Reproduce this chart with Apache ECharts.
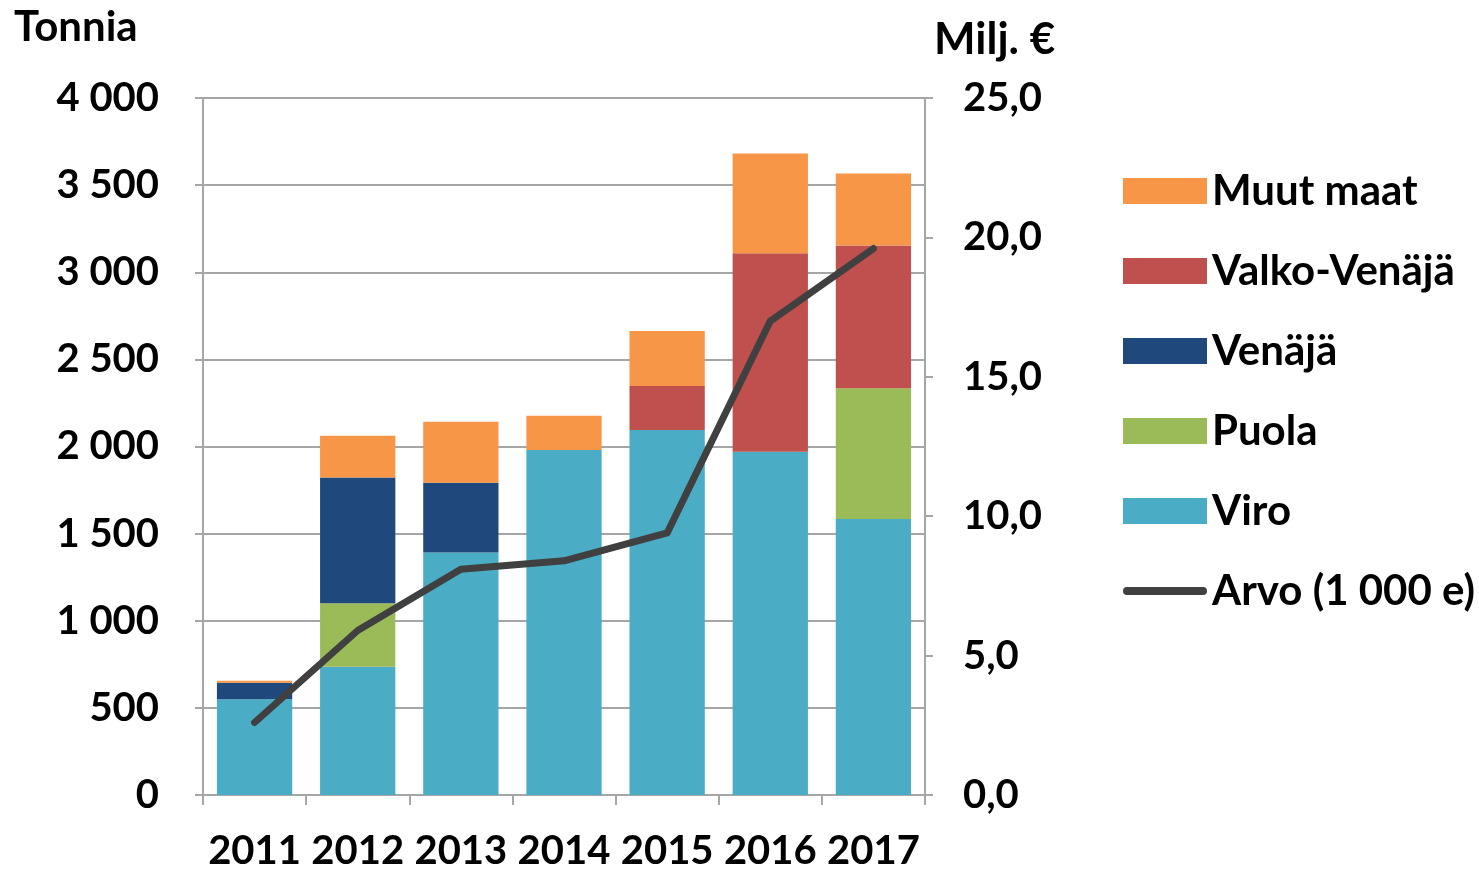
<!DOCTYPE html>
<html><head><meta charset="utf-8">
<script src="https://cdn.jsdelivr.net/npm/echarts@6/dist/echarts.min.js"></script>
<style>html,body{margin:0;padding:0;background:#fff}#c{width:1479px;height:873px}</style>
</head><body><div id="c"></div>
<script>
const categories = ['2011','2012','2013','2014','2015','2016','2017'];
const viro = [549, 736, 1392, 1980, 2095, 1970, 1584];
const puola = [0, 364, 0, 0, 0, 0, 750];
const venaja = [95, 722, 400, 0, 0, 0, 0];
const valkoVenaja = [0, 0, 0, 0, 252, 1139, 820];
const muutMaat = [12, 239, 350, 196, 316, 573, 413];
const arvo = [2.6, 5.9, 8.1, 8.4, 9.4, 17.0, 19.6];

const FONT = 'Lato';
const AX = '#a6a6a6';
const chart = echarts.init(document.getElementById('c'));
const lbl = {fontFamily: FONT, fontWeight: 'bold', fontSize: 40, color: '#000'};
function bar(name, data, color) {
  return {name, type: 'bar', stack: 't', data, barWidth: '73%', yAxisIndex: 0,
    itemStyle: {color}, emphasis: {disabled: true}};
}
chart.setOption({
  animation: false,
  grid: {left: 203, right: 554, top: 98, bottom: 78, containLabel: false},
  graphic: [
    {type: 'text', left: 14, top: 6, style: {text: 'Tonnia', font: 'bold 42px Lato', fill: '#000'}},
    {type: 'text', left: 934, top: 18, style: {text: 'Milj. €', font: 'bold 44px Lato', fill: '#000'}}
  ],
  legend: {
    orient: 'vertical', left: 1123, top: 170, padding: 0, itemWidth: 84, itemHeight: 26, itemGap: 38,
    textStyle: {fontFamily: FONT, fontWeight: 'bold', fontSize: 42, color: '#000', padding: [0,0,0,0]},
    data: [
      {name: 'Muut maat', icon: 'rect'},
      {name: 'Valko-Venäjä', icon: 'rect'},
      {name: 'Venäjä', icon: 'rect'},
      {name: 'Puola', icon: 'rect'},
      {name: 'Viro', icon: 'rect'},
      {name: 'Arvo (1 000 e)', icon: 'path://M4,0 L80,0 A4,4 0 0 1 80,8 L4,8 A4,4 0 0 1 4,0 Z', itemStyle: {color: '#404040'}}
    ]
  },
  xAxis: {
    type: 'category', data: categories,
    axisLine: {lineStyle: {color: AX, width: 2}},
    axisTick: {show: true, alignWithLabel: false, length: 10, lineStyle: {color: AX, width: 2}},
    axisLabel: Object.assign({margin: 36, interval: 0}, lbl)
  },
  yAxis: [
    {type: 'value', min: 0, max: 4000, interval: 500,
      axisLine: {show: true, lineStyle: {color: AX, width: 2}},
      axisTick: {show: true, length: 8, lineStyle: {color: AX, width: 2}},
      splitLine: {lineStyle: {color: AX, width: 2}},
      axisLabel: Object.assign({margin: 44, formatter: v => String(v).replace(/\B(?=(\d{3})+(?!\d))/g, ' ')}, lbl)},
    {type: 'value', min: 0, max: 25, interval: 5, position: 'right',
      axisLine: {show: true, lineStyle: {color: AX, width: 2}},
      axisTick: {show: true, length: 8, lineStyle: {color: AX, width: 2}},
      splitLine: {show: false},
      axisLabel: Object.assign({margin: 38, formatter: v => v.toFixed(1).replace('.', ',')}, lbl)}
  ],
  series: [
    bar('Viro', viro, '#4bacc6'),
    bar('Puola', puola, '#9bbb59'),
    bar('Venäjä', venaja, '#1f497d'),
    bar('Valko-Venäjä', valkoVenaja, '#c0504d'),
    bar('Muut maat', muutMaat, '#f79646'),
    {name: 'Arvo (1 000 e)', type: 'line', yAxisIndex: 1, data: arvo, showSymbol: false, symbol: 'none',
      lineStyle: {color: '#404040', width: 7, cap: 'round', join: 'round'}, itemStyle: {color: '#404040'}, z: 5}
  ]
});
</script></body></html>
